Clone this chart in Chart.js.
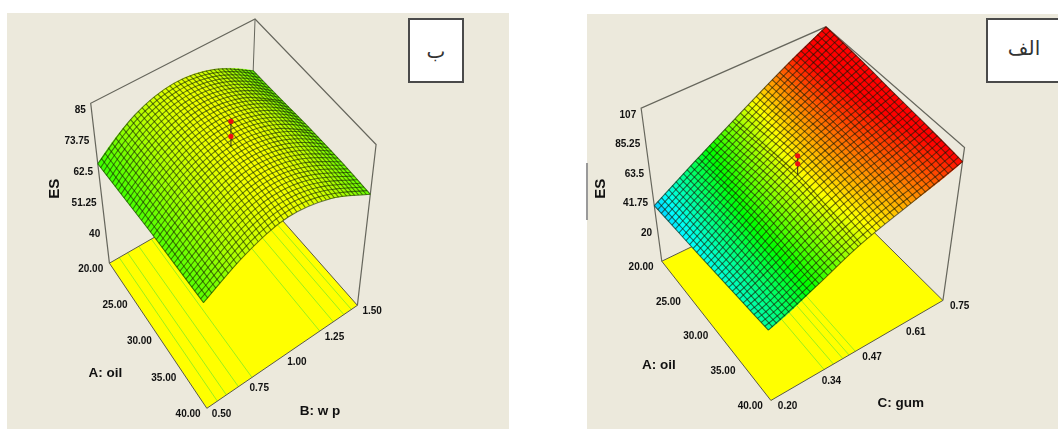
<!DOCTYPE html>
<html>
<head>
<meta charset="utf-8">
<title>ES</title>
<script src="https://cdn.jsdelivr.net/npm/chart.js@4"></script>
<style>
    html, body { margin: 0; padding: 0; background: #fff; width: 1058px; height: 429px; overflow: hidden; }
    canvas { position: absolute; filter: blur(0.45px); }
    #panelB { left: 7px; top: 13px; }
    #panelA { left: 587px; top: 14px; }
    .rotulo {
        position: absolute; top: 18px; height: 61px; background: #fff; border: 2px solid #4a4a4a;
        display: flex; align-items: center; justify-content: center;
        font-family: 'DejaVu Sans', sans-serif; font-size: 20px; color: #333;
    }
    #rotuloB { left: 408px; width: 52px; }
    #rotuloA { left: 986px; width: 72px; border-right: none; padding-bottom: 6px; height: 55px; }
    #marca { position: absolute; left: 586px; top: 163px; width: 2px; height: 57px; background: #9a9a9a; }
</style>
</head>
<body>
<canvas id="panelB" width="502" height="416"></canvas>
<canvas id="panelA" width="471" height="415"></canvas>
<div id="rotuloB" class="rotulo" dir="rtl">ب</div>
<div id="rotuloA" class="rotulo" dir="rtl">الف</div>
<div id="marca"></div>

<script>
// ===================================== Datos ==================
const oil = [20, 25, 30, 35, 40];
const oilLabels = ['20.00', '25.00', '30.00', '35.00', '40.00'];

const wp = [0.5, 0.75, 1.0, 1.25, 1.5];
const wpLabels = ['0.50', '0.75', '1.00', '1.25', '1.50'];
const esTicksB = [85, 73.75, 62.5, 51.25, 40];
const esLabelsB = ['85', '73.75', '62.5', '51.25', '40'];
// ES por fila de oil, columna de wp
const esOil20B = [63, 73, 77, 74.5, 66.6];
const esOil25B = [64, 74, 78.5, 76, 67];
const esOil30B = [65, 74.5, 79, 76.5, 67.5];
const esOil35B = [65.5, 74.5, 79, 76, 67.5];
const esOil40B = [66, 74, 78, 75, 67];
const centroB = [82.5, 88];
const contornosB = [0.57, 0.63, 0.71, 0.8, 1.25, 1.34, 1.41, 1.46];

const gum = [0.2, 0.34, 0.47, 0.61, 0.75];
const gumLabels = ['0.20', '0.34', '0.47', '0.61', '0.75'];
const esTicksA = [107, 85.25, 63.5, 41.75, 20];
const esLabelsA = ['107', '85.25', '63.5', '41.75', '20'];
// ES por fila de oil, columna de gum
const esOil20A = [35, 53, 70, 89, 107];
const esOil25A = [38, 57, 74, 90, 105];
const esOil30A = [41, 60, 77, 90, 102];
const esOil35A = [44, 60, 76, 88, 99.5];
const esOil40A = [47, 60, 74, 85, 96.5];
const centroA = [85, 91];
const contornosA = [0.37, 0.4, 0.43, 0.45, 0.47];


// ===================================== Colores =========================
const rampa = [[0, 0, 255], [0, 255, 255], [0, 255, 0], [255, 255, 0], [255, 0, 0]];

function colorES(es, lo, hi) {
    const t = Math.max(0, Math.min(0.9999, (es - lo) / (hi - lo))) * 4;
    const k = Math.floor(t), f = t - k;
    const c = rampa[k].map((v, n) => Math.round(v + (rampa[k + 1][n] - v) * f));
    return `rgb(${c[0]},${c[1]},${c[2]})`;
}


// ===================================== Proyeccion de la caja 3D ==================
// esquinas en px de pagina: [oil min/max][factor min/max][piso/techo]
function proyectar(p, a, b, es) {
    const u = (a - p.a[0]) / (p.a[4] - p.a[0]);
    const v = (b - p.b[0]) / (p.b[4] - p.b[0]);
    const w = (es - p.esPiso) / (p.esTecho - p.esPiso);
    const mezcla = n => {
        const c = p.esquinas;
        const piso = (1 - u) * ((1 - v) * c[0][0][0][n] + v * c[0][1][0][n]) + u * ((1 - v) * c[1][0][0][n] + v * c[1][1][0][n]);
        const techo = (1 - u) * ((1 - v) * c[0][0][1][n] + v * c[0][1][1][n]) + u * ((1 - v) * c[1][0][1][n] + v * c[1][1][1][n]);
        return piso + (techo - piso) * w;
    };
    return { x: mezcla(0), y: mezcla(1) };
}

function lagrange(xs, x, n) {
    let l = 1;
    xs.forEach((xi, m) => { if (m !== n) l *= (x - xi) / (xs[n] - xi); });
    return l;
}

// solo para sombrear la malla fina entre los valores leidos
function superficie(p, a, b) {
    let total = 0;
    p.a.forEach((_, i) => p.b.forEach((_, j) => {
        total += p.es[i][j] * lagrange(p.a, a, i) * lagrange(p.b, b, j);
    }));
    return total;
}


// ===================================== Dibujo de la caja y la malla ==================
function crearPlugin(p) {
    const linea = (ctx, chart, puntos, color, ancho) => {
        ctx.beginPath();
        puntos.forEach((q, n) => {
            const px = chart.scales.x.getPixelForValue(q.x), py = chart.scales.y.getPixelForValue(q.y);
            n ? ctx.lineTo(px, py) : ctx.moveTo(px, py);
        });
        ctx.strokeStyle = color;
        ctx.lineWidth = ancho;
        ctx.stroke();
    };
    const texto = (ctx, chart, t, q, align, font) => {
        ctx.font = font;
        ctx.textAlign = align;
        ctx.textBaseline = 'middle';
        ctx.fillStyle = '#111';
        ctx.fillText(t, chart.scales.x.getPixelForValue(q.x), chart.scales.y.getPixelForValue(q.y));
    };

    return {
        id: 'caja3d',
        beforeDatasetsDraw(chart) {
            const ctx = chart.ctx, x = chart.scales.x, y = chart.scales.y;
            const a0 = p.a[0], a1 = p.a[4], b0 = p.b[0], b1 = p.b[4];
            const P = (a, b, es) => proyectar(p, a, b, es);
            const T = p.esTecho, F = p.esPiso;
            ctx.save();

            // piso amarillo
            const piso = [P(a0, b0, F), P(a1, b0, F), P(a1, b1, F), P(a0, b1, F)];
            ctx.beginPath();
            piso.forEach((q, n) => {
                n ? ctx.lineTo(x.getPixelForValue(q.x), y.getPixelForValue(q.y)) : ctx.moveTo(x.getPixelForValue(q.x), y.getPixelForValue(q.y));
            });
            ctx.closePath();
            ctx.fillStyle = '#ffff00';
            ctx.fill();
            p.contornos.forEach(b => linea(ctx, chart, [P(a0, b, F), P(a1, b, F)], '#9cf01c', 1));
            linea(ctx, chart, piso.concat([piso[0]]), '#5a5a48', 1);

            // aristas de la caja
            linea(ctx, chart, [P(a0, b0, F), P(a0, b0, T), P(a0, b1, T), P(a1, b1, T), P(a1, b1, F)], '#66665c', 1.2);
            linea(ctx, chart, [P(a0, b1, T), P(a0, b1, F)], '#66665c', 1);

            // celdas, de atras hacia adelante
            const NA = p.celdas[0], NB = p.celdas[1];
            const vA = n => a0 + (a1 - a0) * n / NA, vB = n => b0 + (b1 - b0) * n / NB;
            for (let i = 0; i < NA; i++) {
                for (let j = NB - 1; j >= 0; j--) {
                    const c = [[i, j], [i + 1, j], [i + 1, j + 1], [i, j + 1]].map(g => {
                        const q = P(vA(g[0]), vB(g[1]), superficie(p, vA(g[0]), vB(g[1])));
                        return [x.getPixelForValue(q.x), y.getPixelForValue(q.y)];
                    });
                    const color = colorES(superficie(p, vA(i + 0.5), vB(j + 0.5)), p.colorLo, p.colorHi);
                    ctx.beginPath();
                    c.forEach((q, n) => n ? ctx.lineTo(q[0], q[1]) : ctx.moveTo(q[0], q[1]));
                    ctx.closePath();
                    ctx.fillStyle = color;
                    ctx.strokeStyle = color;
                    ctx.lineWidth = 0.6;
                    ctx.fill();
                    ctx.stroke();
                }
            }
            // lineas finas; las de cada cuarto salen de los datasets
            for (let n = 1; n < NA; n++) {
                if (n % (NA / 4) === 0) continue;
                const fila = [];
                for (let m = 0; m <= NB; m++) fila.push(P(vA(n), vB(m), superficie(p, vA(n), vB(m))));
                linea(ctx, chart, fila, p.colorMalla, 1.1);
            }
            for (let n = 1; n < NB; n++) {
                if (n % (NB / 4) === 0) continue;
                const fila = [];
                for (let m = 0; m <= NA; m++) fila.push(P(vA(m), vB(n), superficie(p, vA(m), vB(n))));
                linea(ctx, chart, fila, p.colorMalla, 1.1);
            }
            ctx.restore();
        },
        afterDatasetsDraw(chart) {
            const ctx = chart.ctx;
            const a0 = p.a[0], a1 = p.a[4], b0 = p.b[0];
            const font = 'bold 10px "Liberation Sans", Arial, sans-serif';
            ctx.save();
            p.esTicks.forEach((es, n) => {
                const q = proyectar(p, a0, b0, es);
                texto(ctx, chart, p.esLabels[n], { x: q.x - 5, y: q.y + 7 }, 'right', font);
            });
            p.a.forEach((a, n) => {
                const q = proyectar(p, a, b0, p.esPiso);
                texto(ctx, chart, p.aLabels[n], { x: q.x + p.dxA, y: q.y + 6 }, 'center', font);
            });
            p.b.forEach((b, n) => {
                const q = proyectar(p, a1, b, p.esPiso);
                texto(ctx, chart, p.bLabels[n], { x: q.x + p.dxB, y: q.y + 6 }, 'center', font);
            });
            const fontTitulo = 'bold 13.5px "Liberation Sans", Arial, sans-serif';
            texto(ctx, chart, 'A: oil', p.tituloA, 'center', fontTitulo);
            texto(ctx, chart, p.nombreB, p.tituloB, 'center', fontTitulo);

            ctx.translate(chart.scales.x.getPixelForValue(p.tituloES.x), chart.scales.y.getPixelForValue(p.tituloES.y));
            ctx.rotate(-Math.PI / 2);
            ctx.font = 'bold 15px "Liberation Sans", Arial, sans-serif';
            ctx.textAlign = 'center';
            ctx.textBaseline = 'middle';
            ctx.fillStyle = '#111';
            ctx.fillText('ES', 0, 0);
            ctx.restore();
        }
    };
}


// ===================================== Grafico de un panel ========================
function crearPanel(id, p) {
    const datasets = [];

    // filas y columnas con los valores leidos
    p.a.forEach((a, i) => datasets.push({
        label: 'oil ' + a, data: p.b.map((b, j) => proyectar(p, a, b, p.es[i][j])),
        showLine: true, tension: 0.35, borderColor: p.colorMalla, borderWidth: 1.1, pointRadius: 0
    }));
    p.b.forEach((b, j) => datasets.push({
        label: p.nombreB + ' ' + b, data: p.a.map((a, i) => proyectar(p, a, b, p.es[i][j])),
        showLine: true, tension: 0.35, borderColor: p.colorMalla, borderWidth: 1.1, pointRadius: 0
    }));

    // puntos centrales del diseno
    const esCentro = superficie(p, p.a[2], p.b[2]);
    datasets.push({
        label: 'centro', data: [proyectar(p, p.a[2], p.b[2], esCentro)].concat(p.centro.map(es => proyectar(p, p.a[2], p.b[2], es))),
        showLine: true, borderColor: '#30301c', borderWidth: 1, tension: 0,
        pointRadius: [0, 2.6, 2.6], pointBackgroundColor: '#ee1010', pointBorderWidth: 0
    });

    return new Chart(document.getElementById(id), {
        type: 'scatter',
        data: { datasets: datasets },
        options: {
            responsive: false,
            animation: false,
            layout: { padding: 0 },
            plugins: {
                legend: { display: false },
                tooltip: { enabled: false },
                fondo: { color: '#ece9dc' }
            },
            scales: {
                x: { type: 'linear', display: false, min: p.vista[0], max: p.vista[1] },
                y: { type: 'linear', display: false, reverse: true, min: p.vista[2], max: p.vista[3] }
            }
        },
        plugins: [{
            id: 'fondo',
            beforeDraw(chart, args, opts) {
                chart.ctx.fillStyle = opts.color;
                chart.ctx.fillRect(0, 0, chart.width, chart.height);
            }
        }, crearPlugin(p)]
    });
}


// ===================================== Inicializar ====================
crearPanel('panelB', {
    vista: [7, 509, 13, 429],
    a: oil, b: wp, aLabels: oilLabels, bLabels: wpLabels,
    es: [esOil20B, esOil25B, esOil30B, esOil35B, esOil40B],
    esTicks: esTicksB, esLabels: esLabelsB, centro: centroB, contornos: contornosB,
    esPiso: 26.8, esTecho: 85, colorLo: 16, colorHi: 101, colorMalla: 'rgba(20,40,0,0.6)',
    celdas: [36, 40],
    esquinas: [
        [[[107, 264], [88, 101]], [[249, 182], [255, 15]]],
        [[[206, 412], [201, 252]], [[359, 307], [378, 143]]]
    ],
    dxA: -19, dxB: 15,
    nombreB: 'B: w p',
    tituloA: { x: 103, y: 376 }, tituloB: { x: 321, y: 415 }, tituloES: { x: 52, y: 188 }
});

crearPanel('panelA', {
    vista: [587, 1058, 14, 429],
    a: oil, b: gum, aLabels: oilLabels, bLabels: gumLabels,
    es: [esOil20A, esOil25A, esOil30A, esOil35A, esOil40A],
    esTicks: esTicksA, esLabels: esLabelsA, centro: centroA, contornos: contornosA,
    esPiso: -6, esTecho: 107, colorLo: 20, colorHi: 97, colorMalla: 'rgba(20,20,0,0.6)',
    celdas: [32, 44],
    esquinas: [
        [[[659, 262], [638, 106]], [[824, 182], [826, 23]]],
        [[[770, 404], [764.5, 251]], [[945, 302], [967, 146]]]
    ],
    dxA: -21, dxB: 17,
    nombreB: 'C: gum',
    tituloA: { x: 656, y: 368 }, tituloB: { x: 902, y: 407 }, tituloES: { x: 597, y: 188 }
});
</script>
</body>
</html>
